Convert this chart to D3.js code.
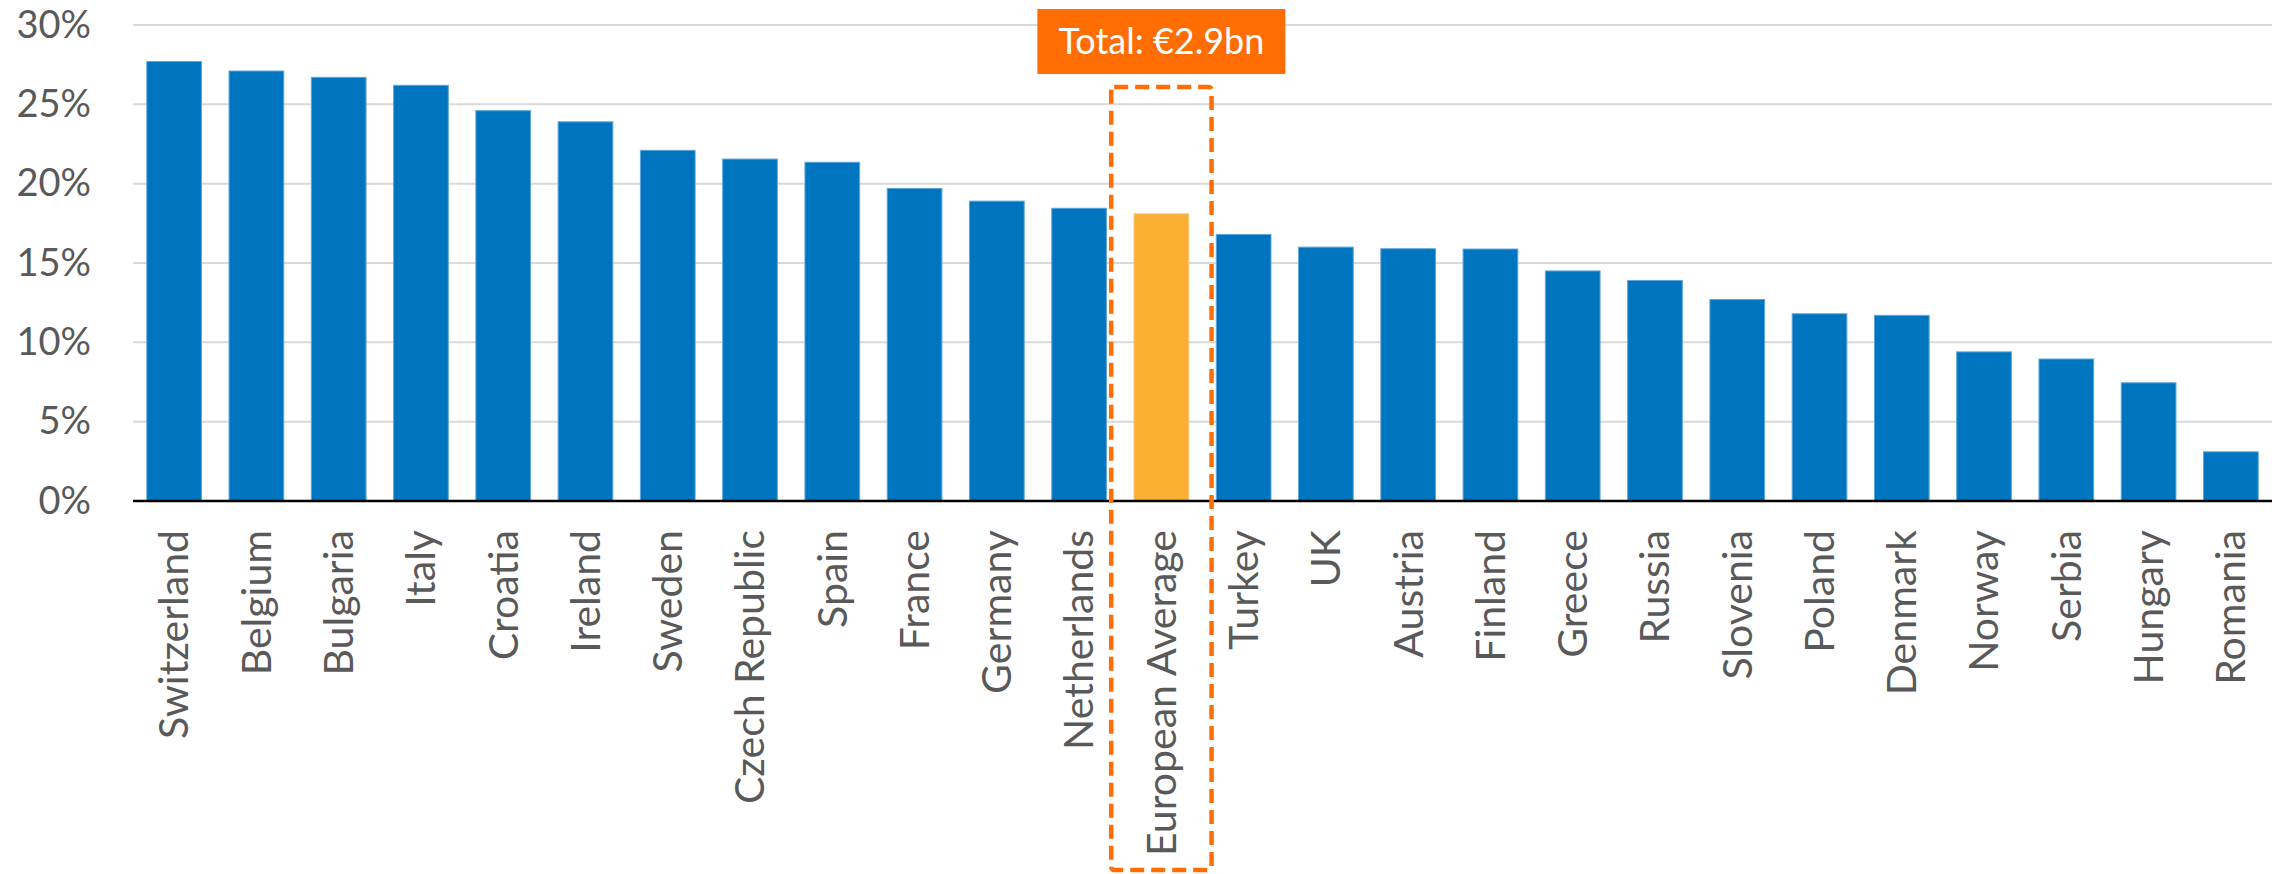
<!DOCTYPE html>
<html>
<head>
<meta charset="utf-8">
<script src="https://cdn.jsdelivr.net/npm/d3@7"></script>
<style>
  html, body { margin: 0; padding: 0; background: #ffffff; }
  svg { display: block; }
  text { font-family: Lato, "Open Sans", sans-serif; }
</style>
</head>
<body>
<svg id="chart" width="2280" height="874"></svg>
<script>
// Share by country, sorted high to low, with the European average highlighted
const countries = [
  "Switzerland", "Belgium", "Bulgaria", "Italy", "Croatia", "Ireland", "Sweden",
  "Czech Republic", "Spain", "France", "Germany", "Netherlands", "European Average",
  "Turkey", "UK", "Austria", "Finland", "Greece", "Russia", "Slovenia", "Poland",
  "Denmark", "Norway", "Serbia", "Hungary", "Romania"
];
const shares = [
  27.7, 27.1, 26.7, 26.2, 24.6, 23.9, 22.1,
  21.55, 21.35, 19.7, 18.9, 18.45, 18.1,
  16.8, 16.0, 15.9, 15.88, 14.5, 13.9, 12.7, 11.8,
  11.7, 9.4, 8.95, 7.45, 3.1
];
const yTicks = [0, 5, 10, 15, 20, 25, 30];
const highlight = "European Average";
const totalLabel = "Total: €2.9bn";

const data = countries.map((c, i) => ({ country: c, value: shares[i] }));

const svg = d3.select("#chart");
const W = 2280, H = 874;
const margin = { top: 25, right: 8, bottom: 373, left: 133 };

const x = d3.scaleBand()
  .domain(countries)
  .range([margin.left, W - margin.right])
  .paddingInner(0.335)
  .paddingOuter(0.1675);

const y = d3.scaleLinear()
  .domain([0, 30])
  .range([H - margin.bottom, margin.top]);

// Horizontal gridlines
svg.append("g")
  .selectAll("line")
  .data(yTicks.filter(t => t > 0))
  .join("line")
  .attr("x1", margin.left)
  .attr("x2", W - margin.right)
  .attr("y1", d => y(d))
  .attr("y2", d => y(d))
  .attr("stroke", "#d9d9d9")
  .attr("stroke-width", 2);

// Y axis labels
const yAxis = d3.axisLeft(y)
  .tickValues(yTicks)
  .tickFormat(d => d + "%")
  .tickSize(0)
  .tickPadding(42);
const gy = svg.append("g")
  .attr("transform", `translate(${margin.left},0)`)
  .call(yAxis);
gy.select(".domain").remove();
gy.selectAll("text")
  .attr("fill", "#595959")
  .style("font-size", "38px")
  .style("font-family", "Lato, 'Open Sans', sans-serif");

// Bars
svg.append("g")
  .selectAll("rect")
  .data(data)
  .join("rect")
  .attr("x", d => x(d.country))
  .attr("width", x.bandwidth())
  .attr("y", d => y(d.value))
  .attr("height", d => y(0) - y(d.value))
  .attr("fill", d => d.country === highlight ? "#FBAF33" : "#0075BF")
  .attr("stroke", d => d.country === highlight ? "#fcc670" : "#5ea6dc")
  .attr("stroke-width", 1);

// X axis baseline and category labels
const xAxis = d3.axisBottom(x).tickSize(0).tickPadding(0);
const gx = svg.append("g")
  .attr("transform", `translate(0,${y(0)})`)
  .call(xAxis);
gx.select(".domain")
  .attr("d", `M${margin.left},0H${W - margin.right}`)
  .attr("stroke", "#000")
  .attr("stroke-width", 2.5);
gx.selectAll(".tick text")
  .attr("fill", "#595959")
  .style("font-size", "41px")
  .style("font-family", "Lato, 'Open Sans', sans-serif")
  .attr("text-anchor", "end")
  .attr("dy", "0.35em")
  .attr("transform", "translate(0,29) rotate(-90)")
  .attr("x", 0)
  .attr("y", 0);

// Dashed frame around the European average
const cx = x(highlight) + x.bandwidth() / 2;
const frameHalf = x.step() * 0.61;
const frameTop = y(26.1);
const frameBottom = H - 4;
svg.append("rect")
  .attr("x", cx - frameHalf)
  .attr("y", frameTop)
  .attr("width", frameHalf * 2)
  .attr("height", frameBottom - frameTop)
  .attr("rx", 3)
  .attr("fill", "none")
  .attr("stroke", "#FF6D03")
  .attr("stroke-width", 4.5)
  .attr("stroke-dasharray", "14 7");

// Total callout above the frame
const boxW = 248, boxH = 65;
const boxTop = 9;
svg.append("rect")
  .attr("x", cx - boxW / 2)
  .attr("y", boxTop)
  .attr("width", boxW)
  .attr("height", boxH)
  .attr("fill", "#FF6D03");
svg.append("text")
  .attr("x", cx)
  .attr("y", boxTop + boxH / 2)
  .attr("dy", "0.36em")
  .attr("text-anchor", "middle")
  .attr("fill", "#ffffff")
  .style("font-size", "36px")
  .text(totalLabel);
</script>
</body>
</html>
